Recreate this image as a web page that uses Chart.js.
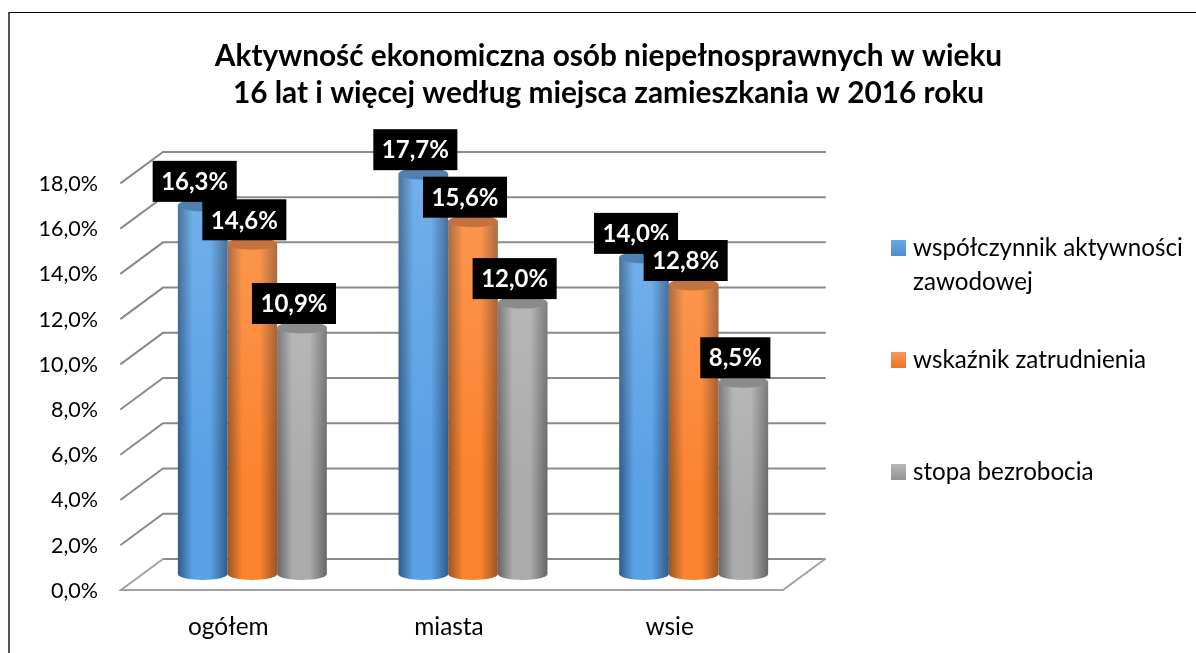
<!DOCTYPE html>
<html lang="pl">
<head>
<meta charset="utf-8">
<style>
html,body{margin:0;padding:0;background:#fff;overflow:hidden}
#frame{position:absolute;left:8px;top:12px;width:1300px;height:700px;border-top:1.5px solid #000;border-left:2px solid #555;box-sizing:border-box}
#c{position:absolute;left:21px;top:0}
</style>
<script src="https://cdn.jsdelivr.net/npm/chart.js@4"></script>
</head>
<body>
<div id="frame"></div>
<canvas id="c" width="1175" height="653"></canvas>
<script>
const titleLines = ['Aktywność ekonomiczna osób niepełnosprawnych w wieku', '16 lat i więcej według miejsca zamieszkania w 2016 roku'];
const categories = ['ogółem', 'miasta', 'wsie'];
const seriesNames = ['współczynnik aktywności zawodowej', 'wskaźnik zatrudnienia', 'stopa bezrobocia'];
const legendLines = [['współczynnik aktywności', 'zawodowej'], ['wskaźnik zatrudnienia'], ['stopa bezrobocia']];
const aktywnosc = [16.3, 17.7, 14.0];
const zatrudnienie = [14.6, 15.6, 12.8];
const bezrobocie = [10.9, 12.0, 8.5];
const FONT = 'Lato, Carlito, sans-serif';

const palettes = [
  {edge:'#2f5c8a', mid:'#5aa2e6', cap:'#4f80b0', swTop:'#6aa8e0', swBot:'#4a8fd0'},
  {edge:'#9c5423', mid:'#fb8430', cap:'#c4733f', swTop:'#f9975a', swBot:'#ee7420'},
  {edge:'#666666', mid:'#ababab', cap:'#8b8b8b', swTop:'#b8b8b8', swBot:'#929292'}
];
const DX = 21, DY = -16, RY = 6, DEPTH_X = 42, DEPTH_Y = -31;
const fmt = v => v.toFixed(1).replace('.', ',') + '%';

function hGrad(ctx, x, w, p) {
  const g = ctx.createLinearGradient(x - w / 2, 0, x + w / 2, 0);
  g.addColorStop(0, p.edge);
  g.addColorStop(0.3, p.mid);
  g.addColorStop(0.65, p.mid);
  g.addColorStop(1, p.edge);
  return g;
}

const scene = {
  id: 'scene',
  beforeDatasetsDraw(chart) {
    const {ctx, chartArea: a, scales: {y}} = chart;
    ctx.save();
    ctx.lineCap = 'round';
    ctx.strokeStyle = '#8a8a8a';
    ctx.lineWidth = 2;
    y.ticks.forEach(t => {
      const py = y.getPixelForValue(t.value);
      ctx.beginPath();
      if (t.value !== 0) {
        ctx.moveTo(a.left, py);
      } else {
        ctx.moveTo(a.left + DEPTH_X, py + DEPTH_Y);
      }
      ctx.lineTo(a.left + DEPTH_X, py + DEPTH_Y);
      ctx.lineTo(a.right + DEPTH_X, py + DEPTH_Y);
      ctx.stroke();
    });
    const y0 = y.getPixelForValue(0);
    ctx.strokeStyle = '#a2a2a2';
    ctx.beginPath();
    ctx.moveTo(a.left + DEPTH_X, y0 + DEPTH_Y);
    ctx.lineTo(a.left, y0);
    ctx.lineTo(a.right, y0);
    ctx.lineTo(a.right + DEPTH_X, y0 + DEPTH_Y);
    ctx.stroke();
    ctx.restore();
    ctx.save();
    ctx.translate(DX, DY);
  },
  beforeDatasetDraw(chart, args) {
    const {ctx} = chart;
    const p = palettes[args.index];
    args.meta.data.forEach(el => {
      const g = hGrad(ctx, el.x, el.width, p);
      ctx.fillStyle = g;
      ctx.beginPath();
      ctx.ellipse(el.x, el.base, el.width / 2, RY, 0, 0, Math.PI * 2);
      ctx.fill();
      el.options = Object.assign({}, el.options, {backgroundColor: g});
    });
  },
  afterDatasetDraw(chart, args) {
    const {ctx} = chart;
    const p = palettes[args.index];
    args.meta.data.forEach(el => {
      const l = el.x - el.width / 2;
      const v = ctx.createLinearGradient(0, el.y, 0, el.base);
      v.addColorStop(0, 'rgba(255,255,255,0.14)');
      v.addColorStop(0.7, 'rgba(255,255,255,0)');
      ctx.fillStyle = v;
      ctx.fillRect(l, el.y, el.width, el.base - el.y);
      ctx.fillStyle = p.cap;
      ctx.beginPath();
      ctx.ellipse(el.x, el.y, el.width / 2, RY, 0, 0, Math.PI * 2);
      ctx.fill();
    });
  },
  afterDatasetsDraw(chart) {
    chart.ctx.restore();
    const {ctx, chartArea: a} = chart;
    ctx.save();
    // value labels, in category order so later boxes cover earlier ones
    ctx.font = 'bold 24px ' + FONT;
    ctx.textAlign = 'center';
    ctx.textBaseline = 'middle';
    for (let i = 0; i < categories.length; i++) {
      chart.data.datasets.forEach((ds, d) => {
        const el = chart.getDatasetMeta(d).data[i];
        const txt = fmt(ds.data[i]);
        const w = ctx.measureText(txt).width + 17;
        const cx = el.x + DX - 8, cy = el.y + DY - 24;
        ctx.fillStyle = '#000';
        ctx.fillRect(cx - w / 2, cy - 20.5, w, 41);
        ctx.fillStyle = '#fff';
        ctx.fillText(txt, cx, cy + 1);
      });
    }
    // legend
    const markerX = a.right + 108, textX = a.right + 130;
    const rows = [248, 360, 472];
    ctx.font = '24.2px ' + FONT;
    ctx.textAlign = 'left';
    legendLines.forEach((lines, i) => {
      const p = palettes[i];
      const g = ctx.createLinearGradient(0, rows[i] - 8, 0, rows[i] + 8);
      g.addColorStop(0, p.swTop);
      g.addColorStop(1, p.swBot);
      ctx.fillStyle = g;
      ctx.fillRect(markerX, rows[i] - 8, 15, 16);
      ctx.fillStyle = '#000';
      lines.forEach((ln, j) => ctx.fillText(ln, textX, rows[i] + j * 34));
    });
    ctx.restore();
  }
};

new Chart(document.getElementById('c'), {
  type: 'bar',
  data: {
    labels: categories,
    datasets: [
      {label: seriesNames[0], data: aktywnosc, backgroundColor: palettes[0].mid},
      {label: seriesNames[1], data: zatrudnienie, backgroundColor: palettes[1].mid},
      {label: seriesNames[2], data: bezrobocie, backgroundColor: palettes[2].mid}
    ]
  },
  options: {
    responsive: false,
    animation: false,
    devicePixelRatio: 1,
    categoryPercentage: 0.675,
    barPercentage: 1,
    clip: false,
    plugins: {
      legend: {display: false},
      tooltip: {enabled: false},
      title: {
        display: true,
        text: titleLines,
        color: '#000',
        font: {family: FONT, size: 29.8, weight: 'bold', lineHeight: 1.24},
        padding: {top: 37.5, bottom: 71.5}
      }
    },
    scales: {
      x: {
        grid: {display: false},
        border: {display: false},
        ticks: {color: '#000', font: {family: FONT, size: 24.4}, padding: 15, labelOffset: -3, maxRotation: 0},
        afterFit(s) { s.height = 63; }
      },
      y: {
        min: 0, max: 18,
        grid: {display: false},
        border: {display: false},
        ticks: {stepSize: 2, color: '#000', font: {family: FONT, size: 21.5}, padding: 15, labelOffset: 1, callback: v => fmt(v)},
        afterFit(s) { s.width = 100; }
      },
      gutter: {
        position: 'right',
        min: 0, max: 1,
        grid: {display: false},
        border: {display: false},
        ticks: {display: false},
        afterFit(s) { s.width = 413; }
      }
    }
  },
  plugins: [scene]
});
</script>
</body>
</html>
